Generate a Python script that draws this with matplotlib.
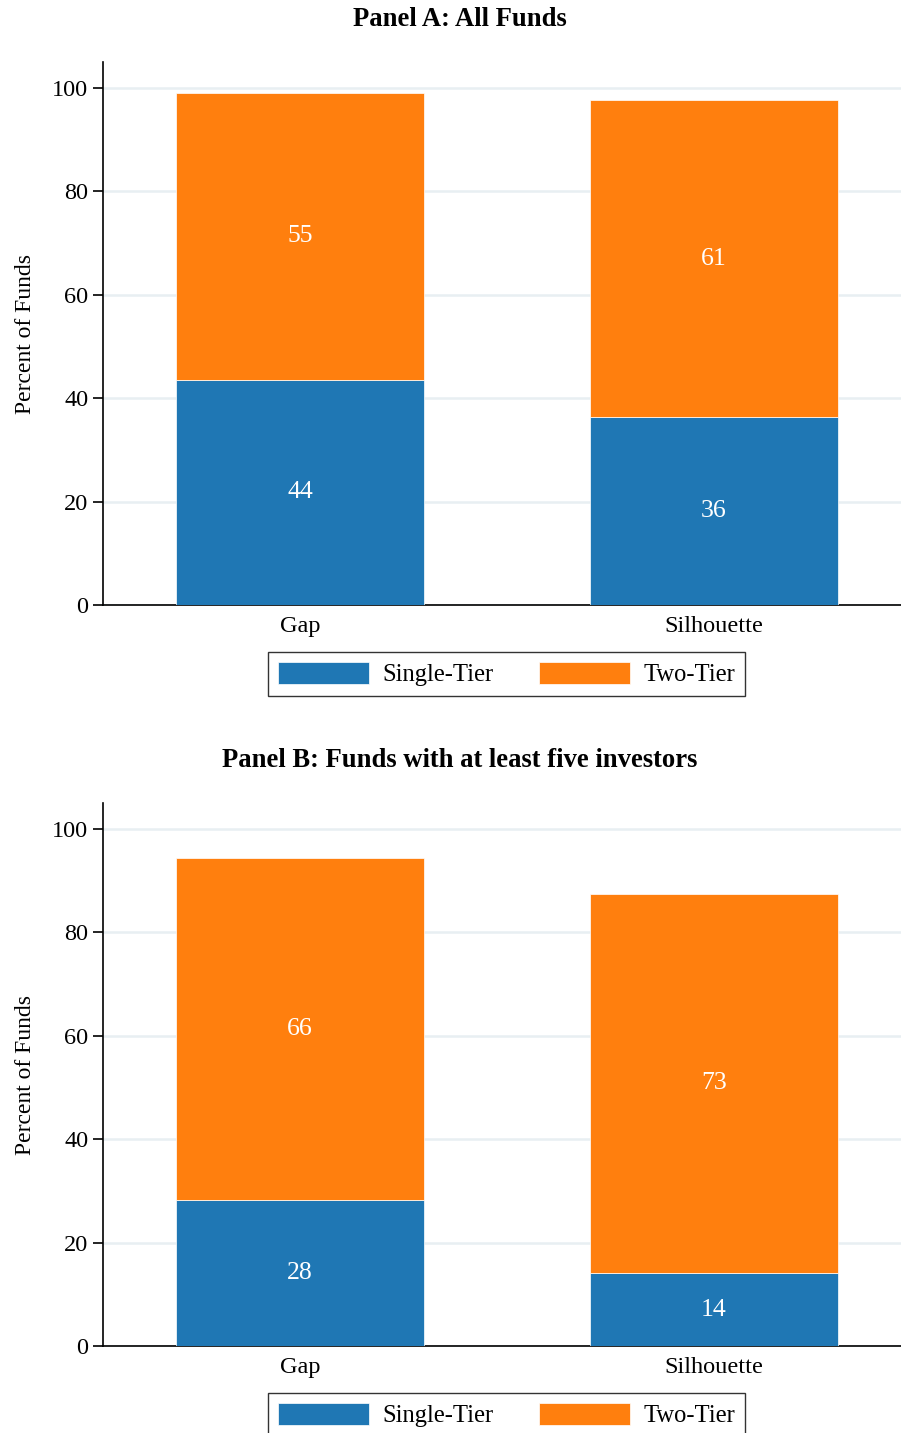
import matplotlib
matplotlib.use('Agg')
import matplotlib.pyplot as plt
import numpy as np

plt.rcParams['font.family'] = ['Liberation Serif', 'DejaVu Serif']

methods = ['Gap', 'Silhouette']
series = ['Single-Tier', 'Two-Tier']
colors = ['#1f77b4', '#ff7f0e']

# panel A: all funds
single_a = [43.6, 36.3]
two_a = [55.4, 61.4]
# panel B: funds with at least five investors
single_b = [28.2, 14.1]
two_b = [66.2, 73.4]

panels = [
    ('Panel A: All Funds', single_a, two_a, 0.5778),
    ('Panel B: Funds with at least five investors', single_b, two_b, 0.0607),
]

fig = plt.figure(figsize=(9.01, 14.33), dpi=100)

for title, single, two, bottom in panels:
    ax = fig.add_axes([0.1143, bottom, 0.8857, 0.3789])
    x = np.arange(len(methods))
    ax.bar(x, single, width=0.6, color=colors[0], edgecolor='white', linewidth=0.5,
           label=series[0], zorder=3)
    ax.bar(x, two, width=0.6, bottom=single, color=colors[1], edgecolor='white',
           linewidth=0.5, label=series[1], zorder=3)
    for i in range(len(methods)):
        ax.text(x[i], single[i] / 2, f'{single[i]:.0f}', ha='center', va='center',
                color='white', fontsize=18.5, zorder=4)
        ax.text(x[i], single[i] + two[i] / 2, f'{two[i]:.0f}', ha='center', va='center',
                color='white', fontsize=18.5, zorder=4)

    ax.set_ylim(0, 105)
    ax.set_xlim(-0.476, 1.452)
    ax.set_yticks([0, 20, 40, 60, 80, 100])
    ax.set_xticks(x)
    ax.set_xticklabels(methods)
    ax.tick_params(axis='y', labelsize=17.5, length=7, width=1.2, direction='out')
    ax.tick_params(axis='x', labelsize=17.5, length=0, pad=8)
    ax.yaxis.grid(True, color='#e8eff2', linewidth=1.8, zorder=0)
    ax.set_axisbelow(True)
    for s in ['top', 'right']:
        ax.spines[s].set_visible(False)
    for s in ['left', 'bottom']:
        ax.spines[s].set_linewidth(1.2)
    ax.set_ylabel('Percent of Funds', fontsize=17, labelpad=12)

    leg = ax.legend(loc='center', bbox_to_anchor=(0.5056, -0.127), ncol=2, fontsize=17.7,
                    frameon=True, fancybox=False, edgecolor='black', handlelength=3.7,
                    handleheight=1.05, handletextpad=0.55, columnspacing=1.85,
                    borderpad=0.4)
    leg.get_frame().set_linewidth(1.0)

    fig.text(0.5105, bottom + 0.3789 + 0.0295, title, ha='center', va='center',
             fontsize=19.2, fontweight='bold')

fig.savefig('out.png', dpi=100)
